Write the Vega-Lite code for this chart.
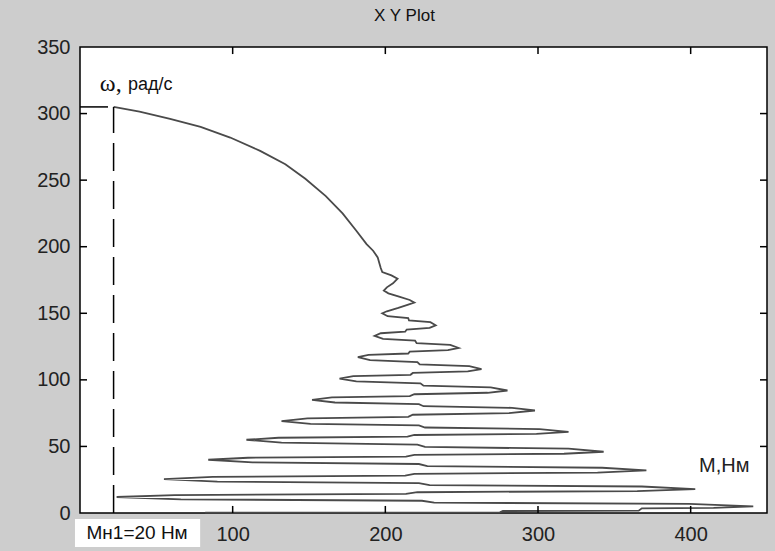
{
 "$schema": "https://vega.github.io/schema/vega-lite/v6.json",
 "width": 687, "height": 466,
 "autosize": {"type": "none"},
 "padding": {"left": 80, "top": 47, "right": 8, "bottom": 38},
 "background": "#cdcdcd",
 "title": {"text": "X Y Plot", "fontSize": 17, "font": "Liberation Sans", "fontWeight": "normal", "color": "#111", "offset": 12, "frame": "group", "dx": -19},
 "config": {
  "view": {"fill": "white", "stroke": "#000", "strokeWidth": 1.5},
  "axis": {"labelFont": "Liberation Sans", "labelFontSize": 20, "labelColor": "#222", "ticks": false, "domain": false, "grid": false, "title": null}
 },
 "datasets": {
  "ticks": [
   {"M":100,"M2":100,"w":0,"w2":5.3},{"M":200,"M2":200,"w":0,"w2":5.3},{"M":300,"M2":300,"w":0,"w2":5.3},{"M":400,"M2":400,"w":0,"w2":5.3},
   {"M":100,"M2":100,"w":350,"w2":344.7},{"M":200,"M2":200,"w":350,"w2":344.7},{"M":300,"M2":300,"w":350,"w2":344.7},{"M":400,"M2":400,"w":350,"w2":344.7},
   {"M":0,"M2":4.6,"w":50,"w2":50},{"M":0,"M2":4.6,"w":100,"w2":100},{"M":0,"M2":4.6,"w":150,"w2":150},{"M":0,"M2":4.6,"w":200,"w2":200},{"M":0,"M2":4.6,"w":250,"w2":250},{"M":0,"M2":4.6,"w":300,"w2":300},
   {"M":450,"M2":445.4,"w":50,"w2":50},{"M":450,"M2":445.4,"w":100,"w2":100},{"M":450,"M2":445.4,"w":150,"w2":150},{"M":450,"M2":445.4,"w":200,"w2":200},{"M":450,"M2":445.4,"w":250,"w2":250},{"M":450,"M2":445.4,"w":300,"w2":300}
  ],
  "curve": [
   {"i":1,"M":82,"w":0.3},{"i":2,"M":275,"w":0.5},{"i":3,"M":277,"w":1.5},{"i":4,"M":366,"w":1.8},{"i":5,"M":368,"w":3.5},{"i":6,"M":415,"w":3.8},{"i":7,"M":441,"w":5},
   {"i":8,"M":399,"w":6.8},{"i":9,"M":232,"w":7.8},{"i":10,"M":224,"w":9.2},{"i":11,"M":66,"w":10.3},{"i":12,"M":24,"w":12},
   {"i":13,"M":62,"w":13.5},{"i":14,"M":213.5,"w":14.4},{"i":15,"M":221,"w":15.6},{"i":16,"M":365,"w":16.5},{"i":17,"M":403,"w":18},
   {"i":18,"M":368,"w":19.9},{"i":19,"M":229,"w":21},{"i":20,"M":222,"w":22.5},{"i":21,"M":90,"w":23.6},{"i":22,"M":55,"w":25.5},
   {"i":23,"M":87,"w":27.1},{"i":24,"M":213,"w":28.1},{"i":25,"M":219,"w":29.4},{"i":26,"M":339,"w":30.4},{"i":27,"M":371,"w":32},
   {"i":28,"M":342,"w":34},{"i":29,"M":227.5,"w":35.2},{"i":30,"M":222,"w":36.8},{"i":31,"M":113,"w":38},{"i":32,"M":84,"w":40},
   {"i":33,"M":110,"w":41.5},{"i":34,"M":213.5,"w":42.4},{"i":35,"M":219,"w":43.6},{"i":36,"M":317,"w":44.5},{"i":37,"M":343,"w":46},
   {"i":38,"M":320,"w":48.3},{"i":39,"M":226,"w":49.6},{"i":40,"M":221,"w":51.4},{"i":41,"M":132,"w":52.8},{"i":42,"M":109,"w":55},
   {"i":43,"M":130,"w":56.5},{"i":44,"M":214.5,"w":57.4},{"i":45,"M":219,"w":58.6},{"i":46,"M":299,"w":59.5},{"i":47,"M":320,"w":61},
   {"i":48,"M":301,"w":63},{"i":49,"M":226,"w":64.2},{"i":50,"M":222,"w":65.8},{"i":51,"M":151,"w":67},{"i":52,"M":132,"w":69},
   {"i":53,"M":149,"w":71},{"i":54,"M":215,"w":72.2},{"i":55,"M":218,"w":73.8},{"i":56,"M":281,"w":75},{"i":57,"M":298,"w":77},
   {"i":58,"M":283,"w":79},{"i":59,"M":225,"w":80.2},{"i":60,"M":222,"w":81.8},{"i":61,"M":167,"w":83},{"i":62,"M":152,"w":85},
   {"i":63,"M":165,"w":86.8},{"i":64,"M":216,"w":87.8},{"i":65,"M":219,"w":89.2},{"i":66,"M":267,"w":90.3},{"i":67,"M":280,"w":92},
   {"i":68,"M":269,"w":94.3},{"i":69,"M":225,"w":95.6},{"i":70,"M":223,"w":97.4},{"i":71,"M":181,"w":98.8},{"i":72,"M":170,"w":101},
   {"i":73,"M":179,"w":102.8},{"i":74,"M":216.5,"w":103.8},{"i":75,"M":218,"w":105.2},{"i":76,"M":254,"w":106.3},{"i":77,"M":263,"w":108},
   {"i":78,"M":255,"w":110.3},{"i":79,"M":222.5,"w":111.6},{"i":80,"M":221,"w":113.4},{"i":81,"M":190,"w":114.8},{"i":82,"M":182,"w":117},
   {"i":83,"M":189,"w":118.8},{"i":84,"M":215,"w":119.8},{"i":85,"M":216,"w":121.2},{"i":86,"M":241,"w":122.3},{"i":87,"M":248,"w":124},
   {"i":88,"M":242.5,"w":126.3},{"i":89,"M":220.5,"w":127.6},{"i":90,"M":219.5,"w":129.4},{"i":91,"M":198.5,"w":130.8},{"i":92,"M":193,"w":133},
   {"i":93,"M":197,"w":135},{"i":94,"M":213,"w":136.2},{"i":95,"M":214,"w":137.8},{"i":96,"M":229,"w":139},{"i":97,"M":233,"w":141},
   {"i":98,"M":229.5,"w":143.3},{"i":99,"M":215.5,"w":144.6},{"i":100,"M":215,"w":146.4},{"i":101,"M":201.5,"w":147.8},{"i":102,"M":198,"w":150},
   {"i":103,"M":201,"w":151.5},{"i":104,"M":208.5,"w":154},{"i":105,"M":215,"w":156.5},{"i":106,"M":219,"w":158},
   {"i":107,"M":216,"w":160},{"i":108,"M":209,"w":162.5},{"i":109,"M":202,"w":165},{"i":110,"M":199,"w":167},
   {"i":111,"M":201,"w":169.5},{"i":112,"M":205,"w":172.5},{"i":113,"M":208,"w":176},
   {"i":114,"M":204,"w":178.5},{"i":115,"M":198,"w":181},{"i":116,"M":197,"w":184},{"i":117,"M":196,"w":188},{"i":118,"M":195,"w":192},
   {"i":119,"M":192,"w":197},{"i":120,"M":187.7,"w":202},{"i":121,"M":181,"w":212},{"i":122,"M":172,"w":225},{"i":123,"M":161,"w":238},
   {"i":124,"M":147.6,"w":251},{"i":125,"M":134.5,"w":262},{"i":126,"M":118,"w":272},{"i":127,"M":98.4,"w":282},{"i":128,"M":79,"w":290},
   {"i":129,"M":59,"w":296},{"i":130,"M":39,"w":301.5},{"i":131,"M":22,"w":305}
  ],
  "dash": [
   {"seg":"v","M":22,"w":0},{"seg":"v","M":22,"w":305},
   {"seg":"h","M":0,"w":305},{"seg":"h","M":22,"w":305}
  ],
  "box": [{"M":-3.3,"M2":78.7,"w":-4.5,"w2":-25.6}],
  "tOmega": [{"M":13,"w":317,"t":"ω,"}],
  "tUnit": [{"M":31.5,"w":318,"t":"рад/с"}],
  "tM": [{"M":422,"w":35,"t":"M,Нм"}],
  "tMn": [{"M":37.4,"w":-15,"t":"Мн1=20 Нм"}]
 },
 "layer": [
  {
   "data": {"name": "curve"},
   "mark": {"type": "line", "stroke": "#4a4a4a", "strokeWidth": 1.8},
   "encoding": {
    "x": {"field": "M", "type": "quantitative", "scale": {"domain": [0, 450], "nice": false, "zero": false},
          "axis": {"orient": "bottom", "values": [100, 200, 300, 400], "labelPadding": 11}},
    "y": {"field": "w", "type": "quantitative", "scale": {"domain": [0, 350], "nice": false, "zero": false},
          "axis": {"orient": "left", "values": [0, 50, 100, 150, 200, 250, 300, 350], "labelPadding": 10}},
    "order": {"field": "i", "type": "quantitative"}
   }
  },
  {
   "data": {"name": "ticks"},
   "mark": {"type": "rule", "stroke": "#000", "strokeWidth": 1.5},
   "encoding": {
    "x": {"field": "M", "type": "quantitative", "scale": {"domain": [0, 450], "nice": false, "zero": false}, "axis": null},
    "x2": {"field": "M2"},
    "y": {"field": "w", "type": "quantitative", "scale": {"domain": [0, 350], "nice": false, "zero": false}, "axis": null},
    "y2": {"field": "w2"}
   }
  },
  {
   "data": {"name": "dash"},
   "mark": {"type": "line", "stroke": "#000", "strokeWidth": 1.5, "strokeDash": [28, 10]},
   "encoding": {
    "x": {"field": "M", "type": "quantitative", "scale": {"domain": [0, 450], "nice": false, "zero": false}, "axis": null},
    "y": {"field": "w", "type": "quantitative", "scale": {"domain": [0, 350], "nice": false, "zero": false}, "axis": null},
    "detail": {"field": "seg"}
   }
  },
  {
   "data": {"name": "box"},
   "mark": {"type": "rect", "fill": "white"},
   "encoding": {
    "x": {"field": "M", "type": "quantitative", "scale": {"domain": [0, 450], "nice": false, "zero": false}, "axis": null},
    "x2": {"field": "M2"},
    "y": {"field": "w", "type": "quantitative", "scale": {"domain": [0, 350], "nice": false, "zero": false}, "axis": null},
    "y2": {"field": "w2"}
   }
  },
  {
   "data": {"name": "tOmega"},
   "mark": {"type": "text", "font": "Liberation Serif", "fontSize": 24, "align": "left", "baseline": "alphabetic", "color": "#111"},
   "encoding": {
    "x": {"field": "M", "type": "quantitative", "scale": {"domain": [0, 450], "nice": false, "zero": false}, "axis": null},
    "y": {"field": "w", "type": "quantitative", "scale": {"domain": [0, 350], "nice": false, "zero": false}, "axis": null},
    "text": {"field": "t"}
   }
  },
  {
   "data": {"name": "tUnit"},
   "mark": {"type": "text", "font": "Liberation Sans", "fontSize": 18, "align": "left", "baseline": "alphabetic", "color": "#111"},
   "encoding": {
    "x": {"field": "M", "type": "quantitative", "scale": {"domain": [0, 450], "nice": false, "zero": false}, "axis": null},
    "y": {"field": "w", "type": "quantitative", "scale": {"domain": [0, 350], "nice": false, "zero": false}, "axis": null},
    "text": {"field": "t"}
   }
  },
  {
   "data": {"name": "tM"},
   "mark": {"type": "text", "font": "Liberation Sans", "fontSize": 20, "align": "center", "baseline": "middle", "color": "#222"},
   "encoding": {
    "x": {"field": "M", "type": "quantitative", "scale": {"domain": [0, 450], "nice": false, "zero": false}, "axis": null},
    "y": {"field": "w", "type": "quantitative", "scale": {"domain": [0, 350], "nice": false, "zero": false}, "axis": null},
    "text": {"field": "t"}
   }
  },
  {
   "data": {"name": "tMn"},
   "mark": {"type": "text", "font": "Liberation Sans", "fontSize": 19, "align": "center", "baseline": "middle", "color": "#111"},
   "encoding": {
    "x": {"field": "M", "type": "quantitative", "scale": {"domain": [0, 450], "nice": false, "zero": false}, "axis": null},
    "y": {"field": "w", "type": "quantitative", "scale": {"domain": [0, 350], "nice": false, "zero": false}, "axis": null},
    "text": {"field": "t"}
   }
  }
 ],
 "resolve": {"axis": {"x": "independent", "y": "independent"}}
}
